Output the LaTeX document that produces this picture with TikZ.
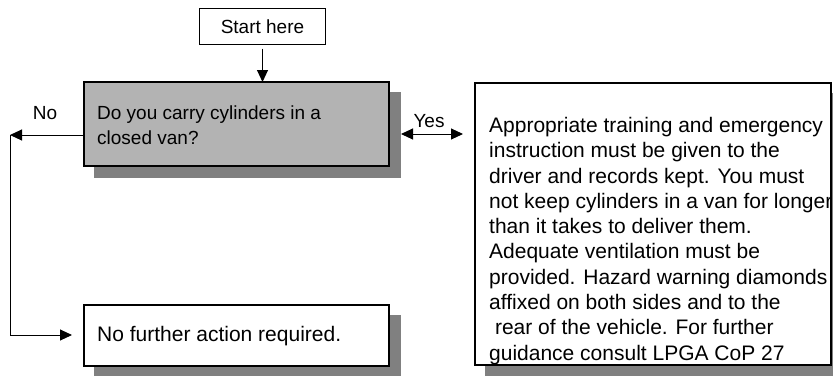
\documentclass[tikz,border=0pt]{standalone}
\usepackage{fontspec}
\setmainfont{Liberation Sans}
\usetikzlibrary{arrows.meta}
\definecolor{qfill}{HTML}{B3B3B3}
\definecolor{shade}{HTML}{808080}
\begin{document}
\begin{tikzpicture}[x=1pt,y=-1pt,
  box/.style={draw=black, line width=2pt, fill=white, inner sep=0pt, outer sep=0pt},
  thinbox/.style={draw=black, line width=1pt, fill=white, inner sep=0pt, outer sep=0pt},
  shadowed/.style={preaction={draw=shade, fill=shade, transform canvas={shift={(11pt,-11pt)}}}},
  arr/.style={line width=1pt, -{Triangle[length=12pt,width=11pt]}},
  dblarr/.style={line width=1pt, {Triangle[length=12pt,width=11pt]}-{Triangle[length=12pt,width=11pt]}},
  lbl/.style={font=\fontsize{19}{22}\selectfont, inner sep=0pt},
  smalltext/.style={font=\fontsize{19}{24.5}\selectfont},
  bigtext/.style={font=\fontsize{21}{25.3}\selectfont}
]
\useasboundingbox (0,0) rectangle (833,375);

% boxes
\node[thinbox, smalltext, minimum width=126pt, minimum height=36pt] (start) at (262.5,26.5) {Start here};

\node[box, shadowed, fill=qfill, minimum width=305pt, minimum height=84pt] (q) at (236.5,124) {};
\node[smalltext, anchor=west, align=left, inner sep=0pt] (qtext) at (97,125) {Do you carry cylinders in a\\closed van?};

\node[box, shadowed, minimum width=305pt, minimum height=61pt] (nfa) at (236.5,335.5) {};
\node[bigtext, anchor=west, inner sep=0pt] (nfatext) at (97,336) {No further action required.};

\node[box, shadowed, minimum width=356pt, minimum height=282pt] (info) at (653,224) {};
\node[bigtext, anchor=north west, align=left, inner sep=0pt] (infotext) at (489,117) {Appropriate training and emergency\\
instruction must be given to the\\
driver and records kept. You must\\
not keep cylinders in a van for longer\\
than it takes to deliver them.\\
Adequate ventilation must be\\
provided. Hazard warning diamonds\\
affixed on both sides and to the\\
\ rear of the vehicle. For further\\
guidance consult LPGA CoP 27};

% coordinates
\coordinate (noTurn) at (10,135);
\coordinate (noEnd) at (72,335);
\coordinate (yesL) at (401,134);
\coordinate (yesR) at (463,134);

% connectors
\draw[arr, shorten <=4pt] (start.south) -- (start.south |- q.north);
\draw[arr] (q.west |- noTurn) -- (noTurn);
\draw[arr] (noTurn) |- (noEnd);
\draw[dblarr] (yesL) -- (yesR);

% labels
\node[lbl, anchor=base] (nolbl) at (45,119) {No};
\node[lbl, anchor=base] (yeslbl) at (429,127) {Yes};
\end{tikzpicture}
\end{document}
